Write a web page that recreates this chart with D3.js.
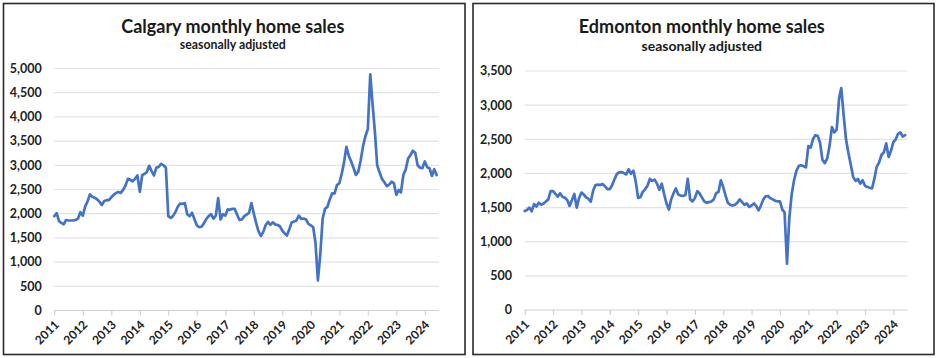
<!DOCTYPE html>
<html><head><meta charset="utf-8">
<script src="https://cdn.jsdelivr.net/npm/d3@7"></script>
<style>
body{margin:0;background:#fff;}
svg{display:block;}
text{font-family:Lato,"Open Sans",sans-serif;}
</style>
</head><body>
<svg id="chart" width="936" height="358"></svg>
<script>
// ---- DATA ----
const years = ["2011","2012","2013","2014","2015","2016","2017","2018","2019","2020","2021","2022","2023","2024"];
const startYear = 2011;
// Monthly, Jan 2011 - Jun 2024
const calgarySales = [
  1950,2010,1850,1810,1780,1870,1860,1860,1860,1870,1900,2030,
  1960,2150,2250,2400,2350,2330,2300,2250,2180,2260,2280,2280,
  2340,2390,2430,2450,2430,2490,2580,2720,2700,2670,2720,2790,
  2450,2800,2820,2860,2990,2880,2790,2950,2970,3030,3000,2950,
  1950,1910,1950,2030,2140,2210,2200,2220,1990,1950,2020,1890,
  1760,1720,1730,1800,1890,1950,1990,1900,1960,2320,1880,1990,
  1960,2090,2080,2100,2100,1980,1870,1880,1950,1980,2020,2220,
  2000,1800,1640,1540,1620,1760,1830,1770,1820,1780,1765,1740,
  1650,1590,1550,1680,1820,1840,1860,1960,1890,1900,1880,1790,
  1760,1720,1400,620,1150,1900,2100,2140,2300,2420,2420,2590,
  2630,2830,3050,3380,3200,3080,2950,2800,2870,3100,3400,3600,
  3750,4880,4300,3700,3000,2850,2720,2650,2570,2600,2660,2630,
  2390,2490,2440,2800,2910,3140,3210,3300,3260,3000,2950,2940,
  3080,2960,2940,2780,2920,2800
];
const edmontonSales = [
  1450,1465,1500,1445,1550,1515,1570,1540,1560,1590,1620,1740,
  1740,1700,1660,1710,1660,1645,1610,1525,1610,1700,1500,1640,
  1720,1690,1650,1630,1585,1750,1830,1835,1830,1845,1810,1770,
  1770,1830,1910,1990,2015,2020,2005,1985,2060,1995,2040,1880,
  1640,1655,1730,1767,1820,1920,1890,1910,1850,1760,1850,1700,
  1560,1470,1620,1710,1780,1690,1675,1670,1685,1920,1620,1590,
  1640,1740,1710,1650,1590,1570,1580,1590,1620,1710,1730,1900,
  1800,1670,1570,1540,1530,1540,1570,1620,1580,1540,1560,1510,
  1530,1560,1525,1460,1530,1620,1665,1670,1635,1620,1600,1590,
  1590,1470,1430,680,1350,1700,1900,2040,2110,2120,2105,2090,
  2400,2380,2500,2560,2550,2450,2200,2150,2220,2400,2680,2600,
  2640,3100,3250,2850,2500,2300,2130,1950,1890,1920,1850,1900,
  1820,1800,1790,1780,1920,2100,2160,2270,2310,2440,2240,2330,
  2460,2500,2580,2600,2540,2560
];
const calgaryYTicks = [0,500,1000,1500,2000,2500,3000,3500,4000,4500,5000];
const edmontonYTicks = [0,500,1000,1500,2000,2500,3000,3500];

// ---- DRAW ----
const svg = d3.select("#chart");
svg.append("rect").attr("width",936).attr("height",358).attr("fill","#fff");
const fmt = d3.format(",");
const blue = "#4472C4";

function drawPanel(cfg){
  const g = svg.append("g");
  g.append("rect").attr("x",cfg.box[0]).attr("y",cfg.box[1]).attr("width",cfg.box[2]).attr("height",cfg.box[3])
    .attr("fill","none").attr("stroke","#2b2b2b").attr("stroke-width",1.6);

  g.append("text").attr("x",cfg.cx).attr("y",32.7).attr("text-anchor","middle")
    .attr("font-weight","bold").attr("font-size",cfg.titleSize).attr("fill","#1a1a1a").text(cfg.title);
  g.append("text").attr("x",cfg.cx).attr("y",cfg.subY).attr("text-anchor","middle")
    .attr("font-weight","bold").attr("font-size",cfg.subSize).attr("fill","#1a1a1a").text(cfg.sub);

  const x = d3.scaleTime()
    .domain([new Date(startYear,0,1), new Date(2024,6,1)])
    .range([cfg.x0, cfg.x1]);
  const y = d3.scaleLinear().domain([0, d3.max(cfg.ticks)]).range([cfg.y0, cfg.yTop]);

  // gridlines
  g.selectAll(".grid").data(cfg.ticks.filter(t=>t>0)).join("line")
    .attr("x1",cfg.x0).attr("x2",cfg.x1)
    .attr("y1",d=>y(d)).attr("y2",d=>y(d))
    .attr("stroke","#e3e3e3").attr("stroke-width",1.2);

  // y labels
  g.selectAll(".yl").data(cfg.ticks).join("text")
    .attr("x",cfg.x0 - cfg.labelGap).attr("y",d=>y(d)).attr("dy","0.35em")
    .attr("text-anchor","end").attr("font-weight","bold").attr("font-size",12.5).attr("fill","#222")
    .text(d=>fmt(d));

  // x axis
  const tickDates = years.map(yy=>new Date(+yy,0,1));
  const xAxis = d3.axisBottom(x).tickValues(tickDates).tickSize(5).tickFormat(d=>String(d.getFullYear()));
  const ax = g.append("g").attr("transform",`translate(0,${cfg.y0})`).call(xAxis);
  ax.select(".domain").attr("stroke","#d0d0d0").attr("stroke-width",1.2)
    .attr("d",`M${cfg.x0},0H${cfg.x1}`);
  ax.selectAll(".tick line").attr("stroke","#d0d0d0").attr("stroke-width",1.2);
  ax.selectAll(".tick text")
    .attr("font-family","Lato, 'Open Sans', sans-serif")
    .attr("font-weight","bold").attr("font-size",12).attr("fill","#222")
    .attr("text-anchor","end").attr("dy",null).attr("y",null)
    .attr("transform","translate(5,15) rotate(-45)");

  // line
  const pts = cfg.data.map((v,i)=>({date:new Date(startYear,i,1), v}));
  const line = d3.line().x(d=>x(d.date)).y(d=>y(d.v));
  g.append("path").datum(pts).attr("d",line).attr("fill","none")
    .attr("stroke",blue).attr("stroke-width",2.7).attr("stroke-linejoin","round").attr("stroke-linecap","round");
}

drawPanel({box:[3.5,3.5,461.5,351], title:"Calgary monthly home sales", titleSize:18, sub:"seasonally adjusted", subSize:12.3, subY:49.3,
  cx:232.8, x0:54.3, x1:439, y0:310.5, yTop:68.5, ticks:calgaryYTicks, data:calgarySales, labelGap:12.5});
drawPanel({box:[473,3.5,461,351], title:"Edmonton monthly home sales", titleSize:18, sub:"seasonally adjusted", subSize:14, subY:51,
  cx:701.8, x0:524.7, x1:907.5, y0:310, yTop:71, ticks:edmontonYTicks, data:edmontonSales, labelGap:12.7});
</script>
</body></html>
